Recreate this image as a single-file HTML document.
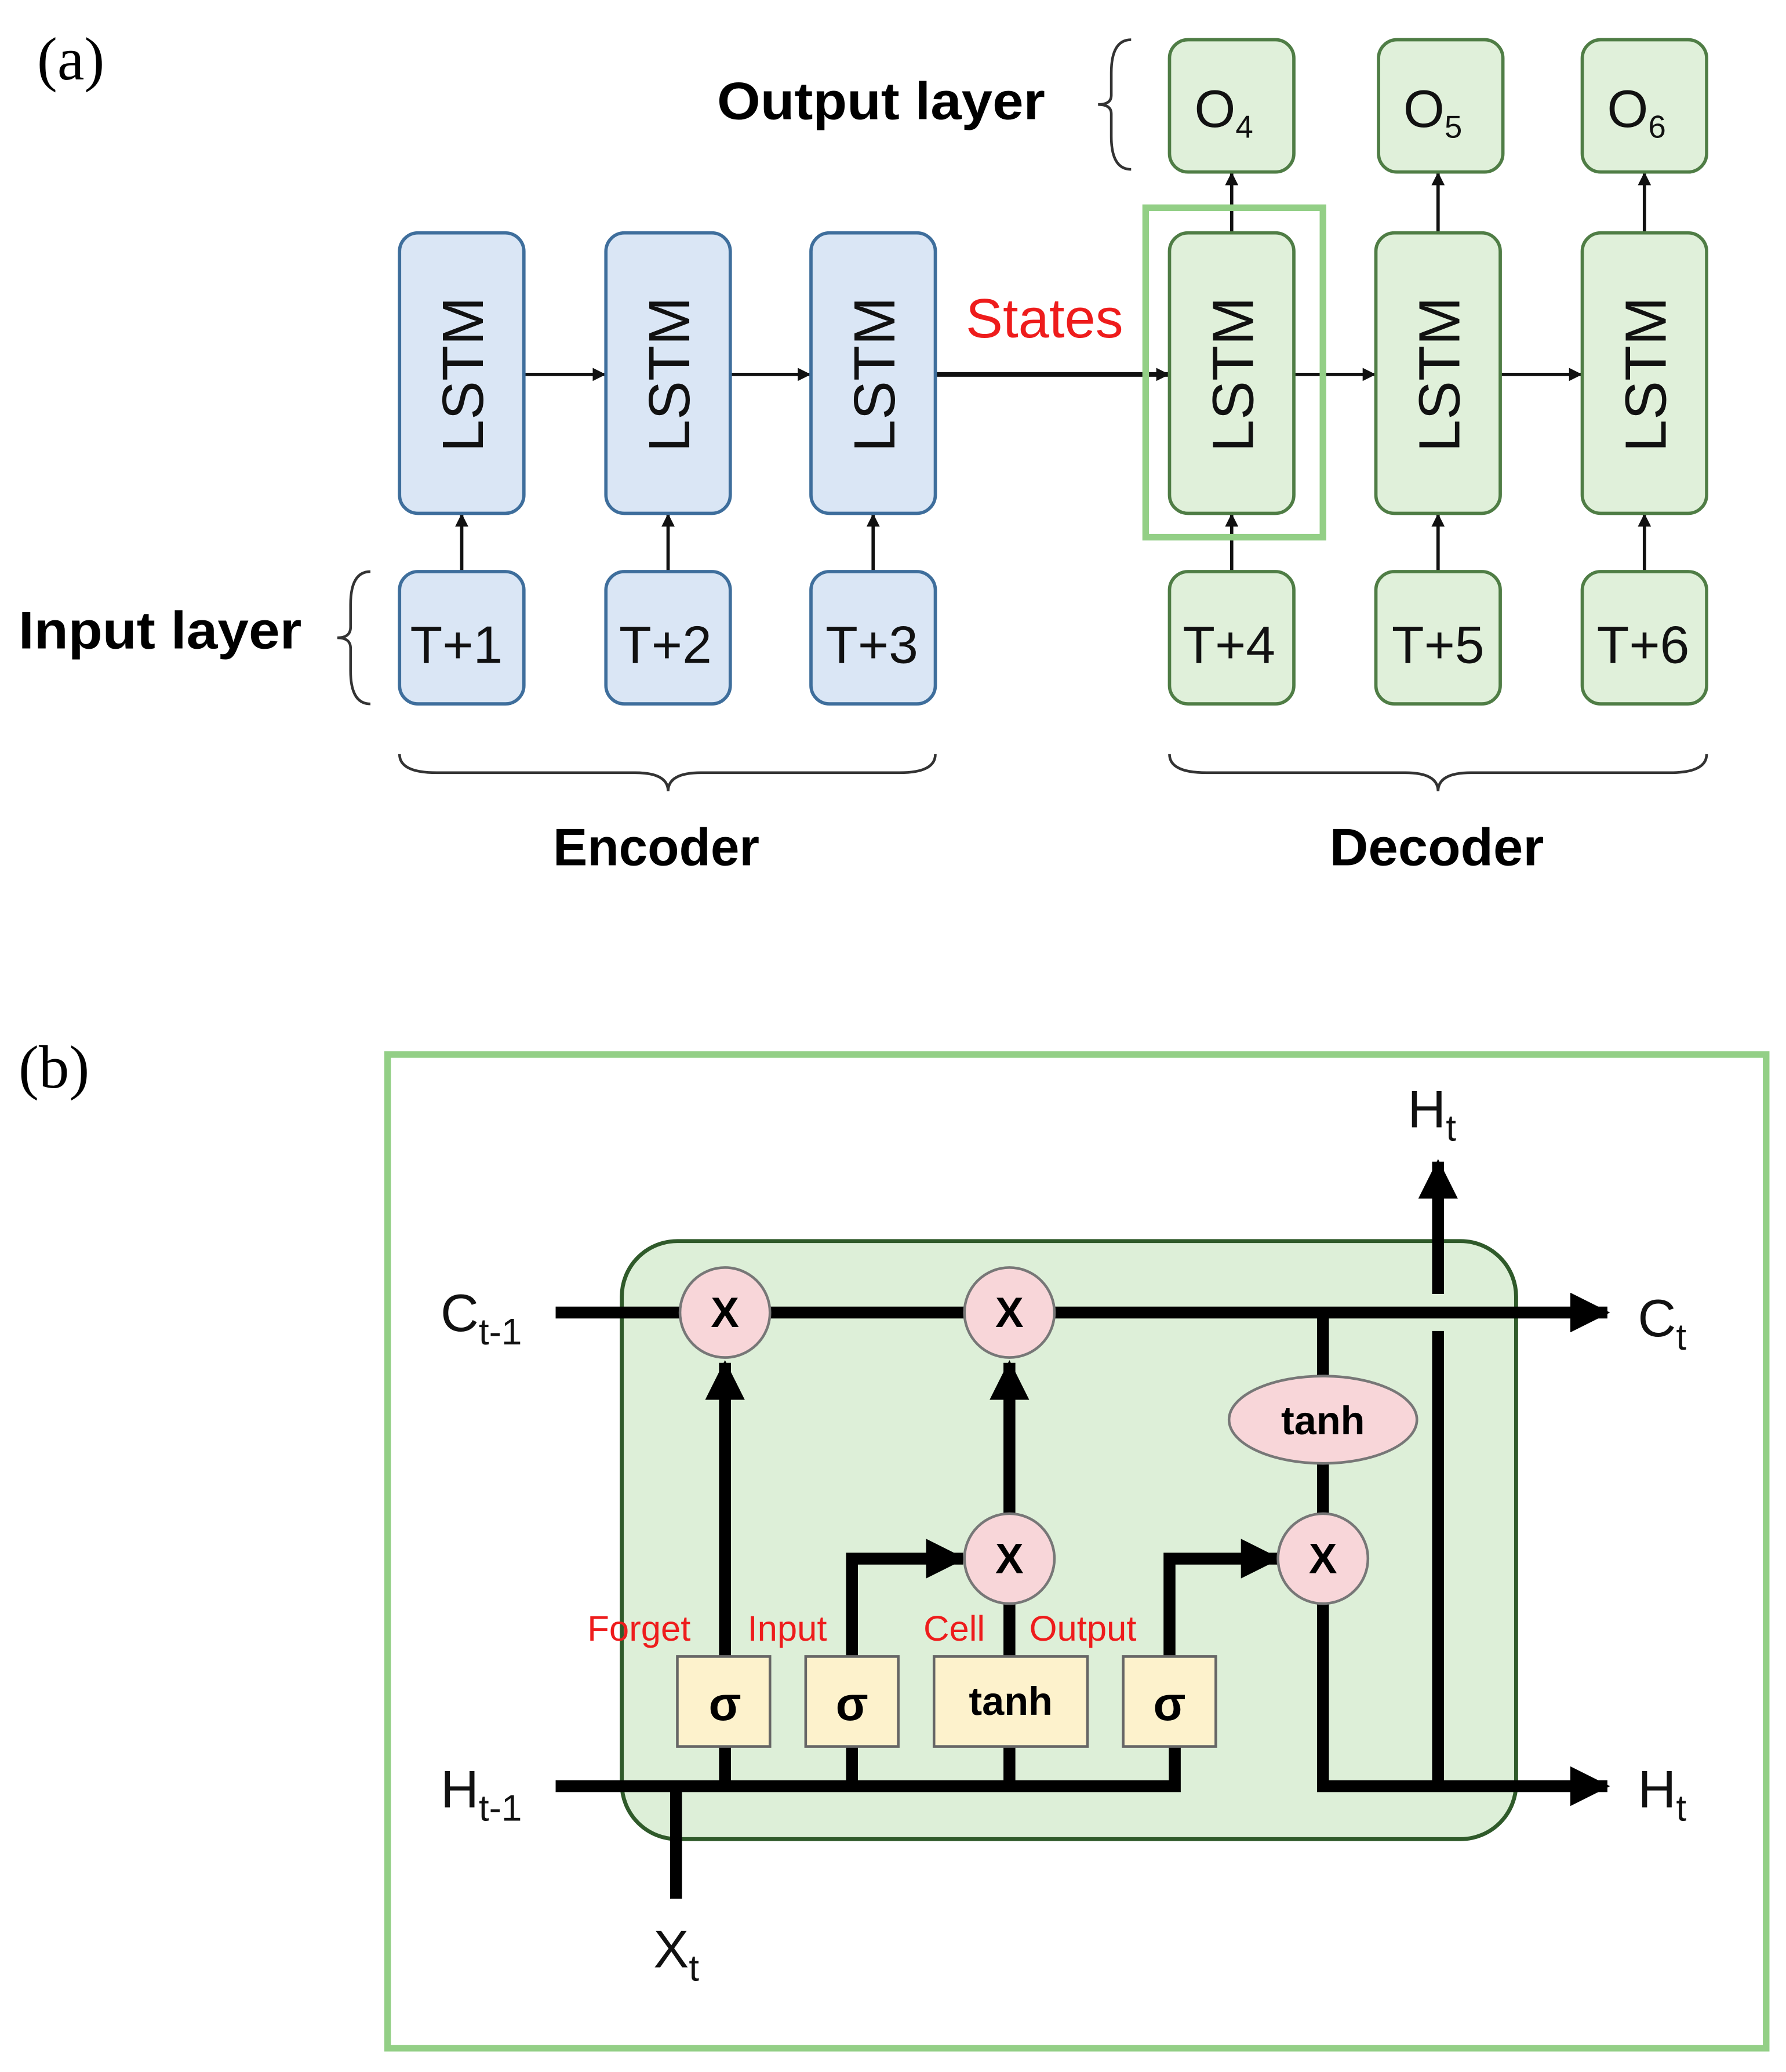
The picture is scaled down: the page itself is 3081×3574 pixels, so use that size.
<!DOCTYPE html>
<html><head><meta charset="utf-8"><style>html,body{margin:0;padding:0;background:#fff}svg{display:block}</style></head><body>
<svg width="3081" height="3574" viewBox="0 0 1350 1566" xmlns="http://www.w3.org/2000/svg" font-family="Liberation Sans, DejaVu Sans, sans-serif">
<defs>
<marker id="a" markerWidth="10" markerHeight="10" refX="9" refY="5" orient="auto" markerUnits="userSpaceOnUse"><path d="M0,0 L10,5 L0,10z" fill="#111"/></marker>
<marker id="b" markerWidth="30" markerHeight="30" refX="28" refY="15" orient="auto" markerUnits="userSpaceOnUse"><path d="M0,0 L30,15 L0,30z" fill="#000"/></marker>
</defs>
<text x="28" y="60" font-family="Liberation Serif, serif" font-size="46">(a)</text>
<text x="542" y="90" font-size="40" font-weight="bold" textLength="248" lengthAdjust="spacingAndGlyphs">Output layer</text>
<path d="M855,30 Q840,30 840,55 L840,72 Q840,79 830,79 Q840,79 840,86 L840,103 Q840,128 855,128" fill="none" stroke="#333" stroke-width="2"/>
<path d="M280,432 Q265,432 265,457 L265,474 Q265,482 255,482 Q265,482 265,490 L265,507 Q265,532 280,532" fill="none" stroke="#333" stroke-width="2"/>
<text x="14" y="490" font-size="40" font-weight="bold" textLength="214" lengthAdjust="spacingAndGlyphs">Input layer</text>
<g stroke="#333" stroke-width="2" fill="none">
<path d="M302,570 Q302,584 330,584 L480,584 Q505,584 505,598 Q505,584 530,584 L680,584 Q707,584 707,570"/>
<path d="M884,570 Q884,584 912,584 L1062,584 Q1087,584 1087,598 Q1087,584 1112,584 L1262,584 Q1290,584 1290,570"/>
</g>
<text x="418" y="654" font-size="40" font-weight="bold" textLength="156" lengthAdjust="spacingAndGlyphs">Encoder</text>
<text x="1005" y="654" font-size="40" font-weight="bold" textLength="162" lengthAdjust="spacingAndGlyphs">Decoder</text>
<g stroke="#111" stroke-width="2.5" marker-end="url(#a)">
<line x1="396" y1="283" x2="457" y2="283"/><line x1="552" y1="283" x2="612" y2="283"/>
<line x1="707" y1="283" x2="883" y2="283" stroke-width="3.5"/>
<line x1="978" y1="283" x2="1039" y2="283"/><line x1="1134" y1="283" x2="1195" y2="283"/>
<line x1="349" y1="432" x2="349" y2="389"/><line x1="505" y1="432" x2="505" y2="389"/><line x1="660" y1="432" x2="660" y2="389"/>
<line x1="931" y1="432" x2="931" y2="389"/><line x1="1087" y1="432" x2="1087" y2="389"/><line x1="1243" y1="432" x2="1243" y2="389"/>
<line x1="931" y1="176" x2="931" y2="131"/><line x1="1087" y1="176" x2="1087" y2="131"/><line x1="1243" y1="176" x2="1243" y2="131"/>
</g>
<g fill="#dae6f5" stroke="#3e6e9c" stroke-width="2.5">
<rect x="302" y="176" width="94" height="212" rx="14"/><rect x="458" y="176" width="94" height="212" rx="14"/><rect x="613" y="176" width="94" height="212" rx="14"/>
<rect x="302" y="432" width="94" height="100" rx="14"/><rect x="458" y="432" width="94" height="100" rx="14"/><rect x="613" y="432" width="94" height="100" rx="14"/>
</g>
<g fill="#e0f0da" stroke="#4f7d45" stroke-width="2.5">
<rect x="884" y="176" width="94" height="212" rx="14"/><rect x="1040" y="176" width="94" height="212" rx="14"/><rect x="1196" y="176" width="94" height="212" rx="14"/>
<rect x="884" y="432" width="94" height="100" rx="14"/><rect x="1040" y="432" width="94" height="100" rx="14"/><rect x="1196" y="432" width="94" height="100" rx="14"/>
<rect x="884" y="30" width="94" height="100" rx="14"/><rect x="1042" y="30" width="94" height="100" rx="14"/><rect x="1196" y="30" width="94" height="100" rx="14"/>
</g>
<rect x="866" y="157" width="134" height="249" fill="none" stroke="#93cf86" stroke-width="5"/>
<g font-size="44" text-anchor="middle" fill="#111">
<text transform="translate(365,283) rotate(-90)">LSTM</text><text transform="translate(521,283) rotate(-90)">LSTM</text><text transform="translate(676,283) rotate(-90)">LSTM</text>
<text transform="translate(947,283) rotate(-90)">LSTM</text><text transform="translate(1103,283) rotate(-90)">LSTM</text><text transform="translate(1259,283) rotate(-90)">LSTM</text>
</g>
<g font-size="40" text-anchor="middle" fill="#111">
<text x="345" y="501">T+1</text><text x="503" y="501">T+2</text><text x="659" y="501">T+3</text>
<text x="929" y="501">T+4</text><text x="1087" y="501">T+5</text><text x="1242" y="501">T+6</text>
<text x="925" y="96">O<tspan font-size="24" dy="8">4</tspan></text>
<text x="1083" y="96">O<tspan font-size="24" dy="8">5</tspan></text>
<text x="1237" y="96">O<tspan font-size="24" dy="8">6</tspan></text>
</g>
<text x="730" y="255" font-size="42" fill="#ee1c1c">States</text>

<text x="14" y="822" font-family="Liberation Serif, serif" font-size="46">(b)</text>
<rect x="293" y="797" width="1042" height="751" fill="none" stroke="#93cf86" stroke-width="5"/>
<rect x="470" y="938" width="676" height="452" rx="42" fill="#ddefd8" stroke="#2f5a2a" stroke-width="3"/>
<g stroke="#000" stroke-width="9" fill="none">
<line x1="1087" y1="1350" x2="1087" y2="878" marker-end="url(#b)"/>
<line x1="1087" y1="978" x2="1087" y2="1006" stroke="#ddefd8" stroke-width="11"/>
<line x1="420" y1="992" x2="1215" y2="992" marker-end="url(#b)"/>
<polyline points="420,1350 888,1350 888,1286"/>
<line x1="548" y1="1350" x2="548" y2="1030" marker-end="url(#b)"/>
<polyline points="644,1350 644,1178 728,1178" marker-end="url(#b)"/>
<line x1="763" y1="1350" x2="763" y2="1030" marker-end="url(#b)"/>
<polyline points="884,1286 884,1178 966,1178" marker-end="url(#b)"/>
<polyline points="1000,992 1000,1350 1215,1350" marker-end="url(#b)"/>
<line x1="511" y1="1350" x2="511" y2="1435"/>
</g>
<g fill="#f8d6d9" stroke="#777" stroke-width="2">
<circle cx="548" cy="992" r="34"/><circle cx="763" cy="992" r="34"/><circle cx="763" cy="1178" r="34"/><circle cx="1000" cy="1178" r="34"/>
<ellipse cx="1000" cy="1073" rx="71" ry="33"/>
</g>
<g fill="#fdf2cc" stroke="#666" stroke-width="2">
<rect x="512" y="1252" width="70" height="68"/><rect x="609" y="1252" width="70" height="68"/><rect x="706" y="1252" width="116" height="68"/><rect x="849" y="1252" width="70" height="68"/>
</g>
<g font-size="32" font-weight="bold" text-anchor="middle">
<text x="548" y="1003">X</text><text x="763" y="1003">X</text><text x="763" y="1189">X</text><text x="1000" y="1189">X</text>
<text x="1000" y="1084" font-size="30">tanh</text>
<text x="548" y="1300" font-size="36">σ</text><text x="644" y="1300" font-size="36">σ</text><text x="884" y="1300" font-size="36">σ</text>
<text x="764" y="1296" font-size="30">tanh</text>
</g>
<g font-size="27" fill="#ee1c1c">
<text x="444" y="1240">Forget</text><text x="565" y="1240">Input</text><text x="698" y="1240">Cell</text><text x="778" y="1240">Output</text>
</g>
<g font-size="40" fill="#111">
<text x="333" y="1006">C<tspan font-size="28" dy="10">t-1</tspan></text>
<text x="333" y="1366">H<tspan font-size="28" dy="10">t-1</tspan></text>
<text x="1238" y="1010">C<tspan font-size="28" dy="10">t</tspan></text>
<text x="1238" y="1366">H<tspan font-size="28" dy="10">t</tspan></text>
<text x="1064" y="852">H<tspan font-size="28" dy="10">t</tspan></text>
<text x="494" y="1487">X<tspan font-size="28" dy="10">t</tspan></text>
</g>
</svg>
</body></html>
